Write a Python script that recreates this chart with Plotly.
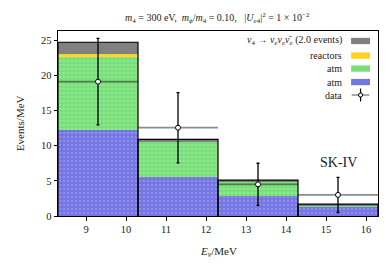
import plotly.graph_objects as go

# ---- data ----
bin_edges = [8.3, 10.3, 12.3, 14.3, 16.3]
bin_centers = [9.3, 11.3, 13.3, 15.3]
atm_blue = [12.2, 5.6, 2.9, 1.3]
atm_green = [10.4, 5.05, 2.0, 0.2]
reactors = [0.4, 0.0, 0.0, 0.0]
decay = [1.7, 0.25, 0.2, 0.2]
data_y = [19.1, 12.55, 4.5, 3.0]
data_err = [6.15, 5.0, 3.0, 2.5]

FONT = "Liberation Serif"
widths = [bin_edges[i + 1] - bin_edges[i] for i in range(len(bin_centers))]

fig = go.Figure()

def add_bar(vals, color, dot):
    fig.add_trace(go.Bar(
        x=bin_centers, y=vals, width=widths,
        marker=dict(color=color, line=dict(width=0),
                    pattern=dict(shape=".", fillmode="overlay", fgcolor=dot,
                                 size=4, solidity=0.35)),
        showlegend=False, hoverinfo="skip"))

add_bar(atm_blue, "#7474e2", "#a6a6f2")
add_bar(atm_green, "#78df78", "#aaeeaa")
add_bar(reactors, "#ffd21a", "#ffe680")
fig.add_trace(go.Bar(x=bin_centers, y=decay, width=widths,
                     marker=dict(color="#808080", line=dict(width=0)),
                     showlegend=False, hoverinfo="skip"))

# outline of total histogram
totals = [a + b + c + d for a, b, c, d in zip(atm_blue, atm_green, reactors, decay)]
ox, oy = [], []
for i, t in enumerate(totals):
    l, r = bin_edges[i], bin_edges[i + 1]
    ox += [l, l, r, r, None]
    oy += [0, t, t, 0, None]
fig.add_trace(go.Scatter(x=ox, y=oy, mode="lines", line=dict(color="black", width=1.2),
                         showlegend=False, hoverinfo="skip"))

# data points
fig.add_trace(go.Scatter(
    x=bin_centers, y=data_y, mode="markers",
    marker=dict(symbol="circle", size=5, color="white", line=dict(color="black", width=1)),
    error_y=dict(type="data", array=data_err, color="black", thickness=1.3, width=1.5),
    error_x=dict(type="data", array=[w / 2 for w in widths], color="rgba(0,0,0,0.45)",
                 thickness=1.8, width=0),
    showlegend=False, hoverinfo="skip"))

# SK-IV label
fig.add_annotation(x=15.3, y=7.6, text="SK-IV", showarrow=False,
                   font=dict(family=FONT, size=14, color="#222"), xanchor="center", yanchor="middle")

# manual legend (text left, handle right)
leg_rows = [
    ("<i>ν</i><sub>4</sub> → <i>ν<sub>e</sub>ν<sub>e</sub>ν̄<sub>e</sub></i> (2.0 events)", "#808080"),
    ("reactors", "#ffd21a"),
    ("atm", "#78df78"),
    ("atm", "#7474e2"),
    ("data", None),
]
ys = [0.946, 0.867, 0.797, 0.724, 0.654]
for (txt, col), yy in zip(leg_rows, ys):
    fig.add_annotation(x=0.893, y=yy, xref="paper", yref="paper", text=txt, showarrow=False,
                       xanchor="right", yanchor="middle", font=dict(family=FONT, size=10, color="#222"))
    if col:
        fig.add_shape(type="rect", xref="paper", yref="paper", x0=0.916, x1=0.975,
                      y0=yy - 0.017, y1=yy + 0.017, fillcolor=col, line=dict(width=0))
    else:
        fig.add_shape(type="line", xref="paper", yref="paper", x0=0.9455, x1=0.9455,
                      y0=yy - 0.035, y1=yy + 0.035, line=dict(color="black", width=1.2))
        fig.add_shape(type="line", xref="paper", yref="paper", x0=0.918, x1=0.973,
                      y0=yy, y1=yy, line=dict(color="rgba(0,0,0,0.45)", width=1.5))
        fig.add_shape(type="circle", xref="paper", yref="paper", x0=0.9455 - 0.0065, x1=0.9455 + 0.0065,
                      y0=yy - 0.011, y1=yy + 0.011, fillcolor="white", line=dict(color="black", width=1))

# axis titles as annotations (exact placement)
fig.add_annotation(x=0.5, y=-0.145, xref="paper", yref="paper", text="<i>E<sub>ν</sub></i>/MeV",
                   showarrow=False, xanchor="center", yanchor="top", font=dict(family=FONT, size=11, color="#222"))
fig.add_annotation(x=-0.095, y=0.5, xref="paper", yref="paper", text="Events/MeV", textangle=-90,
                   showarrow=False, xanchor="right", yanchor="middle", font=dict(family=FONT, size=11, color="#222"))

fig.update_layout(
    width=390, height=267, barmode="stack", bargap=0,
    margin=dict(l=58, r=12, t=31, b=51, autoexpand=False),
    paper_bgcolor="white", plot_bgcolor="white",
    font=dict(family=FONT, size=10, color="#222"),
    title=dict(text="<i>m</i><sub>4</sub> = 300 eV,  <i>m<sub>ϕ</sub></i>/<i>m</i><sub>4</sub> = 0.10,   |<i>U<sub>e</sub></i><sub>4</sub>|<sup>2</sup> = 1 × 10<sup>−2</sup>",
               x=0.557, xanchor="center", y=0.935, yanchor="middle", font=dict(family=FONT, size=10)),
    xaxis=dict(range=[bin_edges[0], bin_edges[-1]], tickvals=[9, 10, 11, 12, 13, 14, 15, 16],
               showline=True, mirror=True, linecolor="black", linewidth=1, automargin=False,
               ticks="outside", ticklen=3.5, tickcolor="black", showgrid=False, zeroline=False,
               tickfont=dict(size=10.5)),
    yaxis=dict(range=[0, 26.3], tickvals=[0, 5, 10, 15, 20, 25],
               showline=True, mirror=True, linecolor="black", linewidth=1, automargin=False,
               ticks="outside", ticklen=3.5, tickcolor="black", showgrid=False, zeroline=False,
               tickfont=dict(size=10.5)),
)

fig.write_html("out.html", config={"displayModeBar": False},
               post_script="document.body.style.margin='0';")
